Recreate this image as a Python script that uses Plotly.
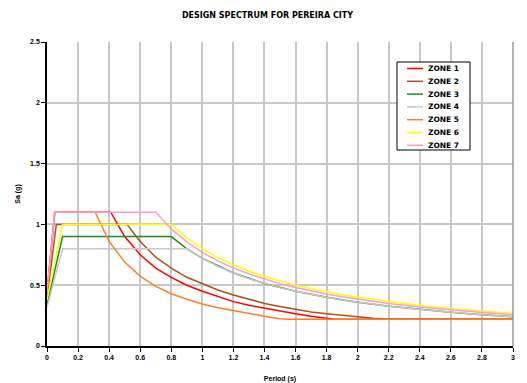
import plotly.graph_objects as go

# Zone spectra (period in s, Sa in g)
zone1_t = [0, 0.05, 0.41, 0.5, 0.6, 0.7, 0.8, 0.9, 1.0, 1.1, 1.2, 1.3, 1.4, 1.5, 1.6, 1.7, 1.8, 1.85, 3.0]
zone1_sa = [0.44, 1.1, 1.1, 0.9, 0.75, 0.64, 0.565, 0.5, 0.45, 0.405, 0.365, 0.335, 0.31, 0.285, 0.265, 0.245, 0.23, 0.22, 0.22]

zone2_t = [0, 0.06, 0.515, 0.6, 0.7, 0.8, 0.9, 1.0, 1.1, 1.2, 1.3, 1.4, 1.5, 1.6, 1.7, 1.8, 1.9, 2.0, 2.1, 2.2, 3.0]
zone2_sa = [0.40, 1.0, 1.0, 0.86, 0.73, 0.64, 0.565, 0.51, 0.46, 0.42, 0.385, 0.35, 0.325, 0.30, 0.28, 0.265, 0.25, 0.24, 0.228, 0.22, 0.22]

zone3_t = [0, 0.1, 0.8, 0.9, 1.0, 1.2, 1.4, 1.6, 1.8, 2.0, 2.2, 2.4, 2.6, 2.8, 3.0]
zone3_sa = [0.34, 0.9, 0.9, 0.8, 0.72, 0.6, 0.514, 0.45, 0.40, 0.36, 0.327, 0.30, 0.277, 0.257, 0.24]

zone4_t = [0, 0.1, 0.9, 1.0, 1.1, 1.2, 1.3, 1.4, 1.5, 1.6, 1.7, 1.8, 1.9, 2.0, 2.2, 2.4, 2.6, 2.8, 3.0]
zone4_sa = [0.32, 0.8, 0.8, 0.72, 0.655, 0.6, 0.554, 0.514, 0.48, 0.45, 0.424, 0.40, 0.379, 0.36, 0.327, 0.30, 0.277, 0.257, 0.24]

zone5_t = [0, 0.05, 0.31, 0.4, 0.5, 0.6, 0.7, 0.8, 0.9, 1.0, 1.1, 1.2, 1.3, 1.4, 1.5, 1.55, 3.0]
zone5_sa = [0.44, 1.1, 1.1, 0.86, 0.69, 0.575, 0.49, 0.43, 0.385, 0.345, 0.315, 0.29, 0.265, 0.245, 0.225, 0.22, 0.22]

zone6_t = [0, 0.1, 0.8, 0.9, 1.0, 1.1, 1.2, 1.3, 1.4, 1.5, 1.6, 1.7, 1.8, 1.9, 2.0, 2.2, 2.4, 2.6, 2.8, 3.0]
zone6_sa = [0.38, 1.0, 1.0, 0.889, 0.80, 0.727, 0.667, 0.615, 0.571, 0.533, 0.50, 0.471, 0.444, 0.421, 0.40, 0.364, 0.333, 0.308, 0.286, 0.267]

zone7_t = [0, 0.05, 0.70, 0.8, 0.9, 1.0, 1.1, 1.2, 1.3, 1.4, 1.5, 1.6, 1.7, 1.8, 1.9, 2.0, 2.2, 2.4, 2.6, 2.8, 3.0]
zone7_sa = [0.44, 1.1, 1.1, 0.963, 0.856, 0.77, 0.70, 0.642, 0.592, 0.55, 0.513, 0.481, 0.453, 0.428, 0.405, 0.385, 0.35, 0.321, 0.296, 0.275, 0.257]

zone_names = ["ZONE 1", "ZONE 2", "ZONE 3", "ZONE 4", "ZONE 5", "ZONE 6", "ZONE 7"]
zone_colors = ["#ff0000", "#b0501a", "#1e8c1e", "#c8c8c8", "#ff7f27", "#ffff00", "#ff99cc"]

x_ticks = [0, 0.2, 0.4, 0.6, 0.8, 1, 1.2, 1.4, 1.6, 1.8, 2, 2.2, 2.4, 2.6, 2.8, 3]
x_tick_labels = ["0", "0.2", "0.4", "0.6", "0.8", "1", "1.2", "1.4", "1.6", "1.8", "2", "2.2", "2.4", "2.6", "2.8", "3"]
y_ticks = [0, 0.5, 1, 1.5, 2, 2.5]
y_tick_labels = ["0", "0.5", "1", "1.5", "2", "2.5"]

series = [
    (zone1_t, zone1_sa), (zone2_t, zone2_sa), (zone3_t, zone3_sa), (zone4_t, zone4_sa),
    (zone5_t, zone5_sa), (zone6_t, zone6_sa), (zone7_t, zone7_sa),
]

FONT = "Liberation Sans, Arial, sans-serif"
WIDE_FONT = "DejaVu Sans, Verdana, sans-serif"
OFF = 8  # page body margin
W, H = 527 - OFF, 383 - OFF
# desired on-screen plot area: x 47..513, y 42..346
ML, MT = 47 - OFF, 42 - OFF
MR = W - (513 - OFF)
MB = H - (346 - OFF)
PW, PH = W - ML - MR, H - MT - MB


def px_x(p):
    return (p - OFF - ML) / PW


def px_y(p):
    return (H - MB - (p - OFF)) / PH


fig = go.Figure()
for (t, sa), name, col in zip(series, zone_names, zone_colors):
    fig.add_trace(go.Scatter(x=t, y=sa, mode="lines", name=name,
                             line=dict(color=col, width=1.5), showlegend=False))

bold = dict(family=FONT, size=7, color="black", weight="bold")
title_font = dict(family=WIDE_FONT, size=8, color="black", weight="bold")
legend_font = dict(family=WIDE_FONT, size=7.5, color="black", weight="bold")

fig.update_layout(
    width=W, height=H,
    margin=dict(l=ML, r=MR, t=MT, b=MB, autoexpand=False),
    paper_bgcolor="white", plot_bgcolor="white",
    title=dict(text="DESIGN SPECTRUM FOR PEREIRA CITY", x=0.5, xanchor="center",
               y=1 - (15 - OFF) / H, yanchor="middle", automargin=False, font=title_font),
    showlegend=False,
    xaxis=dict(range=[0, 3], tickvals=x_ticks, ticktext=x_tick_labels,
               showgrid=True, gridcolor="#c8c8c8", gridwidth=1.5,
               showline=True, linecolor="black", linewidth=1.5,
               ticks="outside", ticklen=4, tickcolor="black",
               zeroline=False, automargin=False, tickfont=bold,
               ticklabeloverflow="allow",
               title=dict(text="Period (s)", standoff=18, font=bold)),
    yaxis=dict(range=[0, 2.5], tickvals=y_ticks, ticktext=y_tick_labels,
               showgrid=True, gridcolor="#c8c8c8", gridwidth=1.5,
               showline=True, linecolor="black", linewidth=1.5,
               ticks="outside", ticklen=4, tickcolor="black",
               zeroline=False, automargin=False, tickfont=bold,
               ticklabeloverflow="allow",
               title=dict(text="Sa (g)", standoff=9, font=bold)),
)

fig.add_shape(type="line", xref="paper", yref="paper", x0=1, x1=1, y0=0, y1=1,
              line=dict(color="#999999", width=1.5))

# Legend box (drawn manually to match the compact Excel legend)
LEG_L, LEG_R, LEG_T, LEG_B = 397, 470, 62, 150
fig.add_shape(type="rect", xref="paper", yref="paper",
              x0=px_x(LEG_L), x1=px_x(LEG_R), y0=px_y(LEG_B), y1=px_y(LEG_T),
              line=dict(color="black", width=1), fillcolor="white", layer="above")
for i, (name, col) in enumerate(zip(zone_names, zone_colors)):
    yy = 68.5 + i * 12.8
    fig.add_shape(type="line", xref="paper", yref="paper",
                  x0=px_x(407), x1=px_x(423), y0=px_y(yy), y1=px_y(yy),
                  line=dict(color=col, width=1.5), layer="above")
    fig.add_annotation(text=name, xref="paper", yref="paper",
                       x=px_x(426), y=px_y(yy), xanchor="left", yanchor="middle",
                       showarrow=False, font=legend_font)

fig.write_html("out.html")
